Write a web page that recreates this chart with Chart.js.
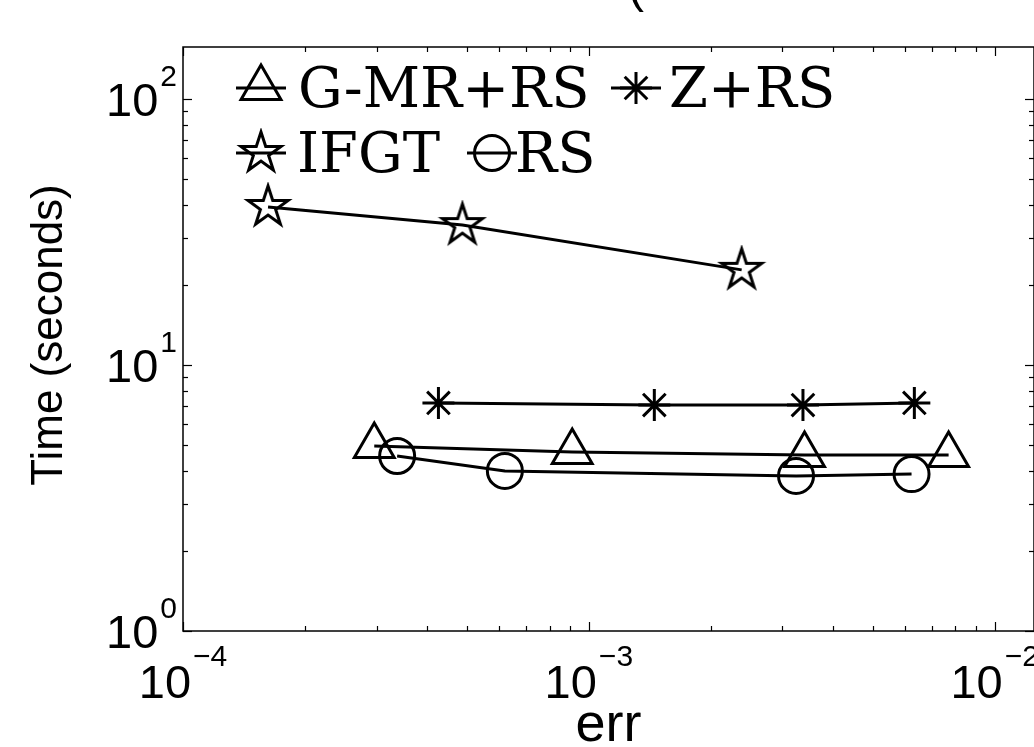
<!DOCTYPE html>
<html>
<head>
<meta charset="utf-8">
<script src="https://cdn.jsdelivr.net/npm/chart.js@4.4.1/dist/chart.umd.min.js"></script>
<style>
  html, body { margin: 0; padding: 0; background: #fff; overflow: hidden; }
  #wrap { width: 1034px; height: 747px; overflow: hidden; }
</style>
</head>
<body>
<div id="wrap"><canvas id="errChart" width="1060" height="747"></canvas></div>
<script>
// ===== values =====
const seriesNames = ['G-MR+RS', 'Z+RS', 'IFGT', 'RS'];

const gmrErr  = [2.96e-4, 9.1e-4, 3.4e-3, 7.7e-3];
const gmrTime = [4.96, 4.71, 4.59, 4.59];

const zErr  = [4.26e-4, 1.45e-3, 3.37e-3, 6.34e-3];
const zTime = [7.2, 7.07, 7.07, 7.2];

const ifgtErr  = [1.62e-4, 4.88e-4, 2.38e-3];
const ifgtTime = [39.3, 33.6, 22.8];

const rsErr  = [3.37e-4, 6.21e-4, 3.24e-3, 6.24e-3];
const rsTime = [4.55, 4.0, 3.83, 3.89];

const xTicks = [1e-4, 1e-3, 1e-2];
const xTickExp = ['\u22124', '\u22123', '\u22122'];
const yTicks = [1, 10, 100];
const yTickExp = ['0', '1', '2'];
const xRange = [1e-4, 1.25e-2];
const yRange = [1, 157];

const xTitle = 'err';
const yTitle = 'Time (seconds)';

// ===== styling =====
const sansFont = '"Liberation Sans", Arial, Helvetica, sans-serif';
const serifFont = '"DejaVu Serif", "Liberation Serif", serif';

function pentagram(R) {
  const c = document.createElement('canvas');
  const s = Math.ceil(R * 2 + 8);
  c.width = s; c.height = s;
  const g = c.getContext('2d');
  const r = R * 0.382;
  g.beginPath();
  for (let i = 0; i < 10; i++) {
    const a = -Math.PI / 2 + i * Math.PI / 5;
    const rr = i % 2 ? r : R;
    const px = s / 2 + rr * Math.cos(a), py = s / 2 + rr * Math.sin(a);
    if (i) g.lineTo(px, py); else g.moveTo(px, py);
  }
  g.closePath();
  g.lineWidth = 3;
  g.lineJoin = 'miter';
  g.strokeStyle = '#000';
  g.stroke();
  return c;
}

const starImg = pentagram(21);
const markerStyles = ['triangle', 'star', starImg, 'circle'];
const markerSizes = [23, 16, 21, 17.5];

function pts(xs, ys) { return xs.map((v, i) => ({ x: v, y: ys[i] })); }

function drawMarker(ctx, style, r, x, y) {
  ctx.save();
  ctx.strokeStyle = '#000';
  ctx.lineWidth = 3;
  if (style instanceof HTMLCanvasElement) {
    ctx.drawImage(style, x - style.width / 2, y - style.height / 2);
    ctx.restore();
    return;
  }
  ctx.beginPath();
  if (style === 'triangle') {
    ctx.moveTo(x, y - r);
    ctx.lineTo(x + r * 0.866, y + r / 2);
    ctx.lineTo(x - r * 0.866, y + r / 2);
    ctx.closePath();
  } else if (style === 'circle') {
    ctx.arc(x, y, r, 0, Math.PI * 2);
  } else if (style === 'star') {
    ctx.moveTo(x - r, y); ctx.lineTo(x + r, y);
    ctx.moveTo(x, y - r); ctx.lineTo(x, y + r);
    const d = r * 0.7071;
    ctx.moveTo(x - d, y - d); ctx.lineTo(x + d, y + d);
    ctx.moveTo(x - d, y + d); ctx.lineTo(x + d, y - d);
  }
  ctx.stroke();
  ctx.restore();
}

// legend placement (MATLAB-style, inside the axes, two rows)
const legendItems = [
  { ds: 0, lx: 236, tx: 298, row: 0 },
  { ds: 1, lx: 611, tx: 669, row: 0 },
  { ds: 2, lx: 236, tx: 297, row: 1 },
  { ds: 3, lx: 467, tx: 515, row: 1 },
];
const legendLineY = [88, 153];
const legendBaseY = [107, 172];

const matlabAxes = {
  id: 'matlabAxes',
  afterDraw(chart) {
    const { ctx, chartArea: a, scales: { x, y } } = chart;
    ctx.save();
    ctx.strokeStyle = '#000';
    ctx.fillStyle = '#000';

    // box
    ctx.lineWidth = 1.5;
    ctx.strokeRect(a.left, a.top, a.right - a.left, a.bottom - a.top);

    // inward ticks
    const tick = (x1, y1, x2, y2) => { ctx.beginPath(); ctx.moveTo(x1, y1); ctx.lineTo(x2, y2); ctx.stroke(); };
    ctx.lineWidth = 1.2;
    xTicks.forEach(d => {
      for (let m = 1; m <= 9; m++) {
        const v = d * m;
        if (v < xRange[0] || v > xRange[1]) continue;
        const px = Math.round(x.getPixelForValue(v)) + 0.5;
        const len = m === 1 ? 9 : 5;
        tick(px, a.bottom, px, a.bottom - len);
        tick(px, a.top, px, a.top + len);
      }
    });
    yTicks.forEach(d => {
      for (let m = 1; m <= 9; m++) {
        const v = d * m;
        if (v < yRange[0] || v > yRange[1]) continue;
        const py = Math.round(y.getPixelForValue(v)) + 0.5;
        const len = m === 1 ? 9 : 5;
        tick(a.left, py, a.left + len, py);
        tick(a.right, py, a.right - len, py);
      }
    });

    // tick labels 10^n
    const mainF = '47px ' + sansFont;
    const supF = '30px ' + sansFont;
    ctx.textBaseline = 'alphabetic';
    ctx.textAlign = 'left';
    xTicks.forEach((d, i) => {
      const px = x.getPixelForValue(d);
      ctx.font = mainF; const w1 = ctx.measureText('10').width;
      ctx.font = supF; const w2 = ctx.measureText(xTickExp[i]).width;
      const x0 = px - (w1 + 2 + w2) / 2;
      ctx.font = mainF; ctx.fillText('10', x0, a.bottom + 67);
      ctx.font = supF; ctx.fillText(xTickExp[i], x0 + w1 + 2, a.bottom + 35);
    });
    yTicks.forEach((d, i) => {
      const py = y.getPixelForValue(d);
      const right = a.left - 6;
      ctx.font = supF; const w2 = ctx.measureText(yTickExp[i]).width;
      ctx.font = mainF; const w1 = ctx.measureText('10').width;
      ctx.fillText('10', right - w2 - 2 - w1, py + 17);
      ctx.font = supF; ctx.fillText(yTickExp[i], right - w2, py - 13);
    });

    // axis titles
    ctx.font = '54px ' + sansFont;
    ctx.textAlign = 'center';
    ctx.fillText(xTitle, (a.left + a.right) / 2, 741);
    ctx.save();
    ctx.translate(50, (a.top + a.bottom) / 2 - 4);
    ctx.rotate(-Math.PI / 2);
    ctx.font = '44px ' + sansFont;
    ctx.textBaseline = 'middle';
    ctx.fillText(yTitle, 0, 0);
    ctx.restore();

    // cut-off title fragment at the very top
    ctx.font = '48px ' + sansFont;
    ctx.textBaseline = 'alphabetic';
    ctx.fillText('(', 636, 2);

    // legend
    ctx.textAlign = 'left';
    ctx.font = '56px ' + serifFont;
    legendItems.forEach(it => {
      const ly = legendLineY[it.row];
      ctx.lineWidth = 3;
      tick(it.lx, ly, it.lx + 50, ly);
      drawMarker(ctx, markerStyles[it.ds], markerSizes[it.ds], it.lx + 25, ly);
      ctx.fillText(seriesNames[it.ds], it.tx, legendBaseY[it.row]);
    });
    ctx.restore();
  }
};

const seriesData = [pts(gmrErr, gmrTime), pts(zErr, zTime), pts(ifgtErr, ifgtTime), pts(rsErr, rsTime)];

new Chart(document.getElementById('errChart'), {
  type: 'line',
  data: {
    datasets: seriesNames.map((name, i) => ({
      label: name,
      data: seriesData[i],
      borderColor: '#000',
      borderWidth: 3,
      tension: 0,
      fill: false,
      pointStyle: markerStyles[i],
      pointRadius: markerSizes[i],
      pointBorderColor: '#000',
      pointBackgroundColor: 'rgba(0,0,0,0)',
      pointBorderWidth: 3,
    }))
  },
  options: {
    responsive: false,
    animation: false,
    layout: { padding: { left: 183, top: 47, right: 16, bottom: 116 } },
    plugins: { legend: { display: false }, tooltip: { enabled: false } },
    scales: {
      x: {
        type: 'logarithmic', min: xRange[0], max: xRange[1],
        ticks: { display: false }, grid: { display: false, drawTicks: false }, border: { display: false }
      },
      y: {
        type: 'logarithmic', min: yRange[0], max: yRange[1],
        ticks: { display: false }, grid: { display: false, drawTicks: false }, border: { display: false }
      }
    }
  },
  plugins: [matlabAxes]
});
</script>
</body>
</html>
